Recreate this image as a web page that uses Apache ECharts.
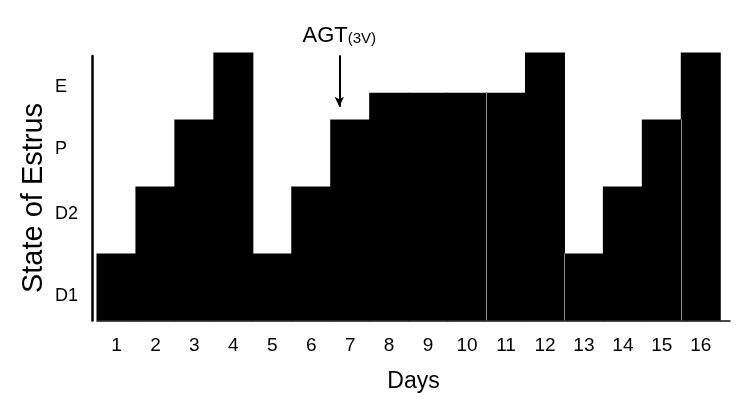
<!DOCTYPE html>
<html>
<head>
<meta charset="utf-8">
<script src="https://cdn.jsdelivr.net/npm/echarts@6/dist/echarts.min.js"></script>
<style>html,body{margin:0;padding:0;background:#fff;}#c{width:750px;height:407px;}</style>
</head>
<body>
<div id="c"></div>
<script>
const days = [1,2,3,4,5,6,7,8,9,10,11,12,13,14,15,16];
const stateValues = [1,2,3,4,1,2,3,3.4,3.4,3.4,3.4,4,1,2,3,4];
const stateLabels = ['D1','D2','P','E'];
const stateLabelValues = [0.37,1.59,2.56,3.49];
const separatorAfterDays = [10,12,15];
const agtDay = 6.72;
const agtArrowFrom = 3.96;
const agtArrowTo = 3.19;

const FONT = 'Liberation Sans, Arial, sans-serif';
const chart = echarts.init(document.getElementById('c'), null, {renderer:'canvas'});

const barData = days.map((d,i) => [d, stateValues[i]]);
const sepLines = separatorAfterDays.map(d => {
  const i = days.indexOf(d);
  const h = Math.min(stateValues[i], stateValues[i+1]);
  return [
    {coord:[d + 0.5, 0], symbol:'none', lineStyle:{color:'#8a8a8a', width:1, type:'solid'}, label:{show:false}},
    {coord:[d + 0.5, h], symbol:'none'}
  ];
});
const arrowLine = [
  {coord:[agtDay, agtArrowFrom], symbol:'none', lineStyle:{color:'#000', width:2, type:'solid'},
    label:{show:true, position:'start', distance:8, formatter:'{a|AGT}{b|(3V)}',
      rich:{a:{fontSize:22, color:'#000', fontFamily:FONT}, b:{fontSize:15, color:'#000', fontFamily:FONT, padding:[6,0,0,0]}}}},
  {coord:[agtDay, agtArrowTo], symbol:'arrow', symbolSize:[7,10]}
];

chart.setOption({
  animation:false,
  backgroundColor:'#fff',
  grid:[
    {left:92, right:656, top:56, bottom:86.5, containLabel:false},
    {left:97, right:20, top:52.5, bottom:86.5, containLabel:false}
  ],
  xAxis:[
    {gridIndex:0, type:'value', show:false, min:0, max:1},
    {gridIndex:1, type:'value', min:0.5, max:16.75,
      axisLine:{show:true, lineStyle:{color:'#111', width:1.5}},
      axisTick:{show:false}, splitLine:{show:false},
      axisLabel:{customValues:days, margin:16, color:'#000', fontSize:19, fontFamily:FONT},
      name:'Days', nameLocation:'middle', nameGap:50,
      nameTextStyle:{color:'#000', fontSize:23, fontFamily:FONT}
    }
  ],
  yAxis:[
    {gridIndex:0, type:'value', min:0, max:3.95,
      axisLine:{show:true, lineStyle:{color:'#000', width:2.5}},
      axisTick:{show:false}, splitLine:{show:false},
      axisLabel:{customValues:stateLabelValues, align:'left', margin:37, color:'#000', fontSize:18, fontFamily:FONT,
        formatter:(v) => { const i = stateLabelValues.indexOf(v); return i >= 0 ? stateLabels[i] : ''; }}
    },
    {gridIndex:1, type:'value', min:0, max:4, show:false}
  ],
  graphic:[
    {type:'text', x:34, y:198, rotation:Math.PI/2,
      style:{text:'State of Estrus', fill:'#000', font:'29px ' + FONT, align:'center', verticalAlign:'middle'}}
  ],
  series:[
    {type:'bar', xAxisIndex:1, yAxisIndex:1, data:barData, barWidth:40,
      itemStyle:{color:'#000'},
      markLine:{silent:true, symbol:['none','none'], data:[arrowLine].concat(sepLines)}
    }
  ]
});
</script>
</body>
</html>
